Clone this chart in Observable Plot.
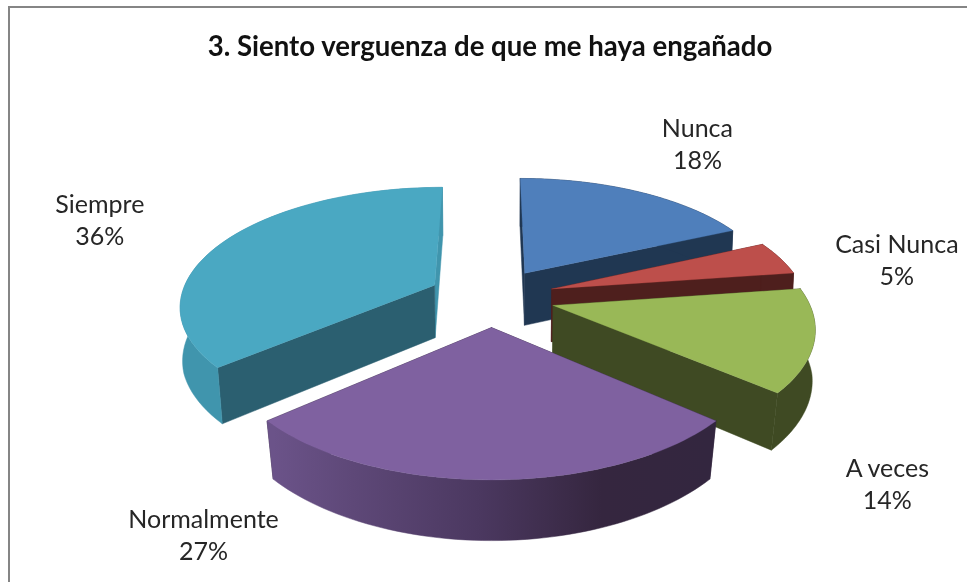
<!DOCTYPE html>
<html>
<head>
<meta charset="utf-8">
<script src="https://cdn.jsdelivr.net/npm/d3@7"></script>
<script src="https://cdn.jsdelivr.net/npm/@observablehq/plot@0.6"></script>
<style>
  html,body{margin:0;padding:0;background:#fff;width:967px;height:583px;overflow:hidden}
  #wrap{position:relative;width:967px;height:583px}
  #frameTop{position:absolute;left:8px;top:6px;width:959px;height:2px;background:#858585}
  #frameLeft{position:absolute;left:8px;top:6px;width:2px;height:576px;background:#858585}
  #title{position:absolute;left:0;top:26px;width:980px;text-align:center;font:700 27.6px/40px Lato,sans-serif;color:#111;filter:blur(.4px);white-space:nowrap}
  svg{position:absolute;left:0;top:0;filter:blur(.4px);background:transparent}
</style>
</head>
<body>
<div id="wrap">
  <div id="frameTop"></div><div id="frameLeft"></div>
  <div id="chart"></div>
  <div id="title">3. Siento verguenza de que me haya engañado</div>
</div>
<script>
const categories = ["Nunca", "Casi Nunca", "A veces", "Normalmente", "Siempre"];
const counts = [4, 1, 3, 6, 8];
const topColors = ["#4f7fbb", "#bd4f4b", "#99b857", "#7f61a0", "#4aa8c2"];
const cutColors = ["#203752", "#4e1f1d", "#3f4a23", "#35263f", "#2b5f70"];
const sideColors = ["#203752", "#4e1f1d", "#3f4a23", "url(#purpleSide)", "#4095ad"];
const purpleStops = [[0, "#6b5389"], [0.18, "#5e4878"], [0.47, "#4b3860"], [0.75, "#35263f"], [1, "#33263f"]];
const labelShift = [[59, -49], [117, 1], [73, 142], [-288, 54], [-125, -22]];

// Projection of the tilted pie
const W = 967, H = 583, cx = 491, cy = 296.6, R = 254, S = 117, K = 0.16, EXPLODE = 0.25;
const rad = d => d * Math.PI / 180;
const project = (X, Z) => { const w = 1 + K * Z; return [cx + R * X / w, cy - S * Z / w]; };
const lower = ([x, y]) => {
  const shrink = 0.992 - 0.00019 * Math.max(0, y - 320);
  return [cx + (x - cx) * shrink, y + 52 + (y - 272) * 0.042];
};

const total = d3.sum(counts);
let acc = 0;
const slices = categories.map((name, i) => {
  const a0 = acc / total * 360; acc += counts[i]; const a1 = acc / total * 360, mid = (a0 + a1) / 2;
  const ex = EXPLODE * Math.sin(rad(mid)), ez = EXPLODE * Math.cos(rad(mid));
  const apex = project(ex, ez);
  const rim = t => project(ex + Math.sin(rad(t)), ez + Math.cos(rad(t)));
  const arc = d3.range(0, 61).map(j => rim(a0 + (a1 - a0) * j / 60));
  return {name, i, a0, a1, mid, apex, rim, arc};
});

const poly = (pts, fill, sw = 0.5) => Plot.line([...pts, pts[0]], {
  x: d => d[0], y: d => d[1], fill, stroke: fill, strokeWidth: sw, curve: "linear"
});

const marks = [() => {
  const defs = d3.create("svg:defs");
  const g = defs.append("linearGradient").attr("id", "purpleSide")
    .attr("gradientUnits", "userSpaceOnUse").attr("x1", 273).attr("x2", 710).attr("y1", 0).attr("y2", 0);
  purpleStops.forEach(([o, c]) => g.append("stop").attr("offset", o).attr("stop-color", c));
  return defs.node();
}];
for (const s of [slices[0], slices[1], slices[2], slices[4], slices[3]]) {
  const first = s.arc[0], last = s.arc[s.arc.length - 1];
  const startFace = [s.apex, first, lower(first), lower(s.apex)];
  const endFace = [s.apex, last, lower(last), lower(s.apex)];
  if (s.name === "Siempre") {
    marks.push(poly(endFace, sideColors[s.i]));
    marks.push(poly(startFace, cutColors[s.i]));
  } else {
    marks.push(poly(startFace, cutColors[s.i]));
    marks.push(poly(endFace, cutColors[s.i]));
  }
  marks.push(poly([...s.arc, ...s.arc.map(lower).reverse()], sideColors[s.i]));
  marks.push(poly([s.apex, ...s.arc], topColors[s.i], 0.3));
}

const labelRows = slices.map((s, i) => {
  const p = s.rim(s.mid);
  return {x: p[0] + labelShift[i][0], y: p[1] + labelShift[i][1],
          text: `${s.name}\n${Math.round(counts[i] / total * 100)}%`};
});
marks.push(Plot.text(labelRows, {
  x: "x", y: "y", text: "text", fontSize: 25, lineHeight: 1.28, fill: "#262626",
  fontFamily: "Lato, sans-serif", textAnchor: "middle"
}));

const chart = Plot.plot({
  width: W, height: H, margin: 0,
  x: {domain: [0, W], range: [0, W], axis: null},
  y: {domain: [0, H], range: [0, H], axis: null},
  style: {background: "transparent", overflow: "visible"},
  marks
});
document.getElementById("chart").appendChild(chart);
</script>
</body>
</html>
